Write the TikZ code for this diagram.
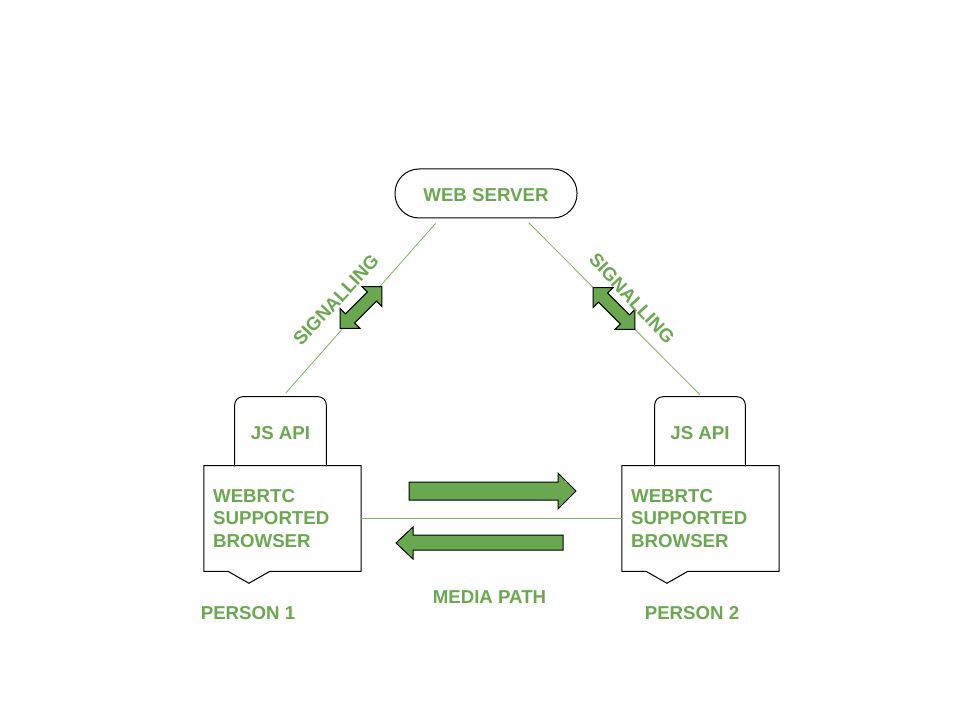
\documentclass[tikz,border=0pt]{standalone}
\usepackage{fontspec}
\setmainfont{Liberation Sans}
\usetikzlibrary{calc}
\definecolor{gtext}{HTML}{6AA84F}
\definecolor{gfill}{HTML}{6AA84F}
\definecolor{gline}{HTML}{7DB55F}
\begin{document}
\begin{tikzpicture}[x=0.75pt,y=-0.75pt,
  lbl/.style={text=gtext, font=\fontsize{14}{16.9}\selectfont\bfseries, inner sep=0pt},
  oneline/.style={text height=12.2pt, text depth=0pt},
  box/.style={draw=black, line width=0.75pt},
  conn/.style={draw=gline, line width=0.6pt},
  fatarrow/.style={fill=gfill, draw=black, line width=0.75pt, line join=miter}]
\useasboundingbox (0,0) rectangle (960,720);

% web server
\node[lbl, oneline, box, rounded corners=18pt, minimum width=136.5pt, minimum height=36.75pt] (web) at (486,193.5) {WEB SERVER};

% JS API boxes
\node[lbl, oneline, minimum width=68.25pt, minimum height=51.75pt] (js1) at (280.5,431.5) {JS API};
\node[lbl, oneline, minimum width=67.5pt, minimum height=51.75pt] (js2) at (700,431.5) {JS API};
\draw[box, rounded corners=6pt] (js1.south west) -- (js1.north west) -- (js1.north east) [sharp corners] -- (js1.south east);
\draw[box, rounded corners=6pt] (js2.south west) -- (js2.north west) -- (js2.north east) [sharp corners] -- (js2.south east);

% browsers
\node[lbl, align=left, text width=104pt, minimum height=78.75pt, inner xsep=6.75pt] (b1) at (282.5,518.5) {WEBRTC\\SUPPORTED\\BROWSER};
\node[lbl, align=left, text width=104pt, minimum height=78.75pt, inner xsep=6.75pt] (b2) at (700.5,518.5) {WEBRTC\\SUPPORTED\\BROWSER};
\foreach \b in {b1,b2}{
  \draw[box] (\b.north west) -- (\b.north east) -- (\b.south east)
    -- ($(\b.south west)+(66,0)$) -- ($(\b.south west)+(45,12)$)
    -- ($(\b.south west)+(24,0)$) -- (\b.south west) -- cycle;
}

% connectors
\draw[conn] ($(web.south west)+(41,5)$) -- ($(js1.north)+(5.5,-4)$);
\draw[conn] ($(web.south west)+(134,4)$) -- ($(js2.north)+(0,-2)$);
\draw[conn] (b1.east) -- (b2.west);

% media arrows
\draw[fatarrow] (409,482) -- (558,482) -- (558,473) -- (576,491) -- (558,509) -- (558,500) -- (409,500) -- cycle;
\draw[fatarrow] (563,535) -- (413,535) -- (413,527) -- (396,543) -- (413,559) -- (413,550) -- (563,550) -- cycle;

% signalling double arrows
\begin{scope}[shift={(361,307.5)}, rotate=45]
  \draw[fatarrow] (-29.5,0) -- (-15.5,-14) -- (-15.5,-6.5) -- (15.5,-6.5) -- (15.5,-14) -- (29.5,0) -- (15.5,14) -- (15.5,6.5) -- (-15.5,6.5) -- (-15.5,14) -- cycle;
\end{scope}
\begin{scope}[shift={(614,308.5)}, rotate=-45]
  \draw[fatarrow] (-29.5,0) -- (-15.5,-14) -- (-15.5,-6.5) -- (15.5,-6.5) -- (15.5,-14) -- (29.5,0) -- (15.5,14) -- (15.5,6.5) -- (-15.5,6.5) -- (-15.5,14) -- cycle;
\end{scope}

% labels
\node[lbl, rotate=47] (sig1) at (336,300) {SIGNALLING};
\node[lbl, rotate=-47] (sig2) at (632,298.5) {SIGNALLING};
\node[lbl, oneline] (p1) at (248,611) {PERSON 1};
\node[lbl, oneline] (p2) at (692,611) {PERSON 2};
\node[lbl, oneline] (media) at (489.5,595) {MEDIA PATH};
\end{tikzpicture}
\end{document}
